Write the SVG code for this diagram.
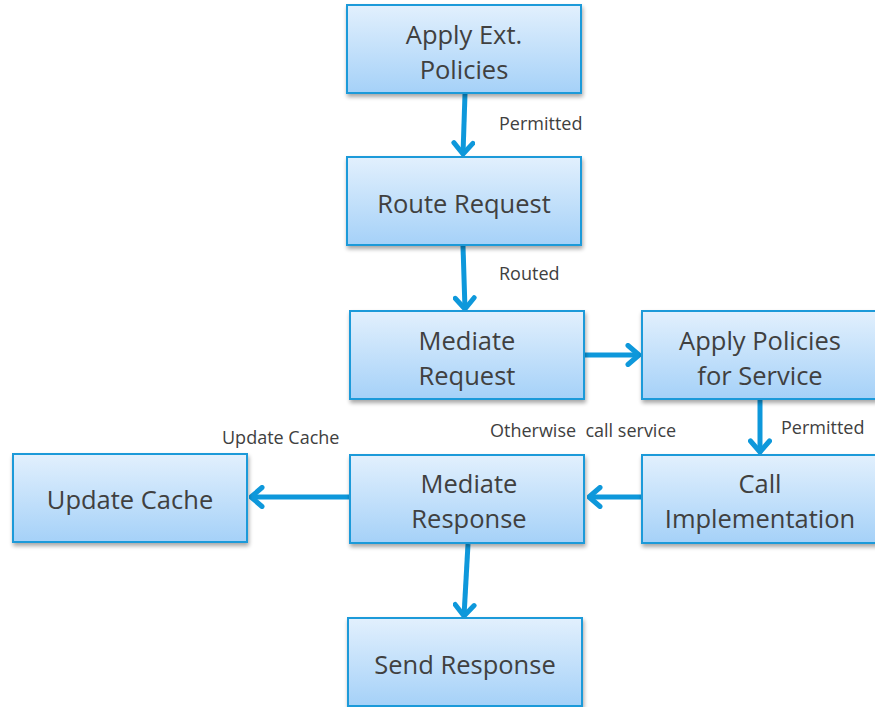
<svg xmlns="http://www.w3.org/2000/svg" width="875" height="707" viewBox="0 0 875 707">
  <style>
    .box { fill: url(#boxFill); stroke: #1b9ad9; stroke-width: 2; filter: url(#shadow); }
    .txt { font-family: "Open Sans", "Liberation Sans", sans-serif; font-size: 25.5px; fill: #404040; text-anchor: middle; }
    .lbl { font-family: "Open Sans", "Liberation Sans", sans-serif; font-size: 18px; fill: #404040; }
    .edge { stroke: #0e98db; stroke-width: 5; fill: none; stroke-linecap: butt; marker-end: url(#chev); }
  </style>
  <defs>
    <linearGradient id="boxFill" x1="0" y1="0" x2="0" y2="1">
      <stop offset="0" stop-color="#e2f0fd"/>
      <stop offset="1" stop-color="#a5d1f8"/>
    </linearGradient>
    <filter id="shadow" x="-10%" y="-10%" width="120%" height="130%">
      <feGaussianBlur in="SourceAlpha" stdDeviation="2"/>
      <feOffset dx="1" dy="3"/>
      <feComponentTransfer><feFuncA type="linear" slope="0.35"/></feComponentTransfer>
      <feMerge><feMergeNode/><feMergeNode in="SourceGraphic"/></feMerge>
    </filter>
    <marker id="chev" viewBox="-14 -12 16 24" refX="0" refY="0" markerWidth="16" markerHeight="24" markerUnits="userSpaceOnUse" orient="auto">
      <path d="M-11,-9.5 L0,0 L-11,9.5" fill="none" stroke="#0e98db" stroke-width="5" stroke-linecap="round" stroke-linejoin="round"/>
    </marker>
  </defs>

  <rect width="875" height="707" fill="#ffffff"/>

  <g id="connectors">
    <line class="edge" x1="465" y1="94" x2="463" y2="154"/>
    <line class="edge" x1="463" y1="246" x2="465" y2="309"/>
    <line class="edge" x1="585" y1="355" x2="639" y2="355"/>
    <line class="edge" x1="760" y1="400" x2="760" y2="452"/>
    <line class="edge" x1="641" y1="497" x2="589" y2="497"/>
    <line class="edge" x1="349" y1="497" x2="251" y2="497"/>
    <line class="edge" x1="468" y1="544" x2="464" y2="616"/>
  </g>

  <g id="edge-labels">
    <text class="lbl" x="499" y="130">Permitted</text>
    <text class="lbl" x="499" y="280">Routed</text>
    <text class="lbl" x="490" y="437" xml:space="preserve">Otherwise  call service</text>
    <text class="lbl" x="781" y="434">Permitted</text>
    <text class="lbl" x="222" y="444">Update Cache</text>
  </g>

  <g id="apply-ext-policies">
    <rect class="box" x="347" y="5" width="234" height="88"/>
    <text class="txt" x="464" y="44">Apply Ext.</text>
    <text class="txt" x="464" y="79">Policies</text>
  </g>

  <g id="route-request">
    <rect class="box" x="347" y="157" width="234" height="88"/>
    <text class="txt" x="464" y="213">Route Request</text>
  </g>

  <g id="mediate-request">
    <rect class="box" x="350" y="311" width="234" height="88"/>
    <text class="txt" x="467" y="350">Mediate</text>
    <text class="txt" x="467" y="385">Request</text>
  </g>

  <g id="apply-policies-service">
    <rect class="box" x="642" y="311" width="236" height="88"/>
    <text class="txt" x="760" y="350">Apply Policies</text>
    <text class="txt" x="760" y="385">for Service</text>
  </g>

  <g id="call-implementation">
    <rect class="box" x="642" y="455" width="236" height="88"/>
    <text class="txt" x="760" y="493">Call</text>
    <text class="txt" x="760" y="528">Implementation</text>
  </g>

  <g id="mediate-response">
    <rect class="box" x="350" y="455" width="234" height="88"/>
    <text class="txt" x="469" y="493">Mediate</text>
    <text class="txt" x="469" y="528">Response</text>
  </g>

  <g id="update-cache">
    <rect class="box" x="13" y="454" width="234" height="88"/>
    <text class="txt" x="130" y="509">Update Cache</text>
  </g>

  <g id="send-response">
    <rect class="box" x="348" y="618" width="234" height="88"/>
    <text class="txt" x="465" y="674">Send Response</text>
  </g>
</svg>
